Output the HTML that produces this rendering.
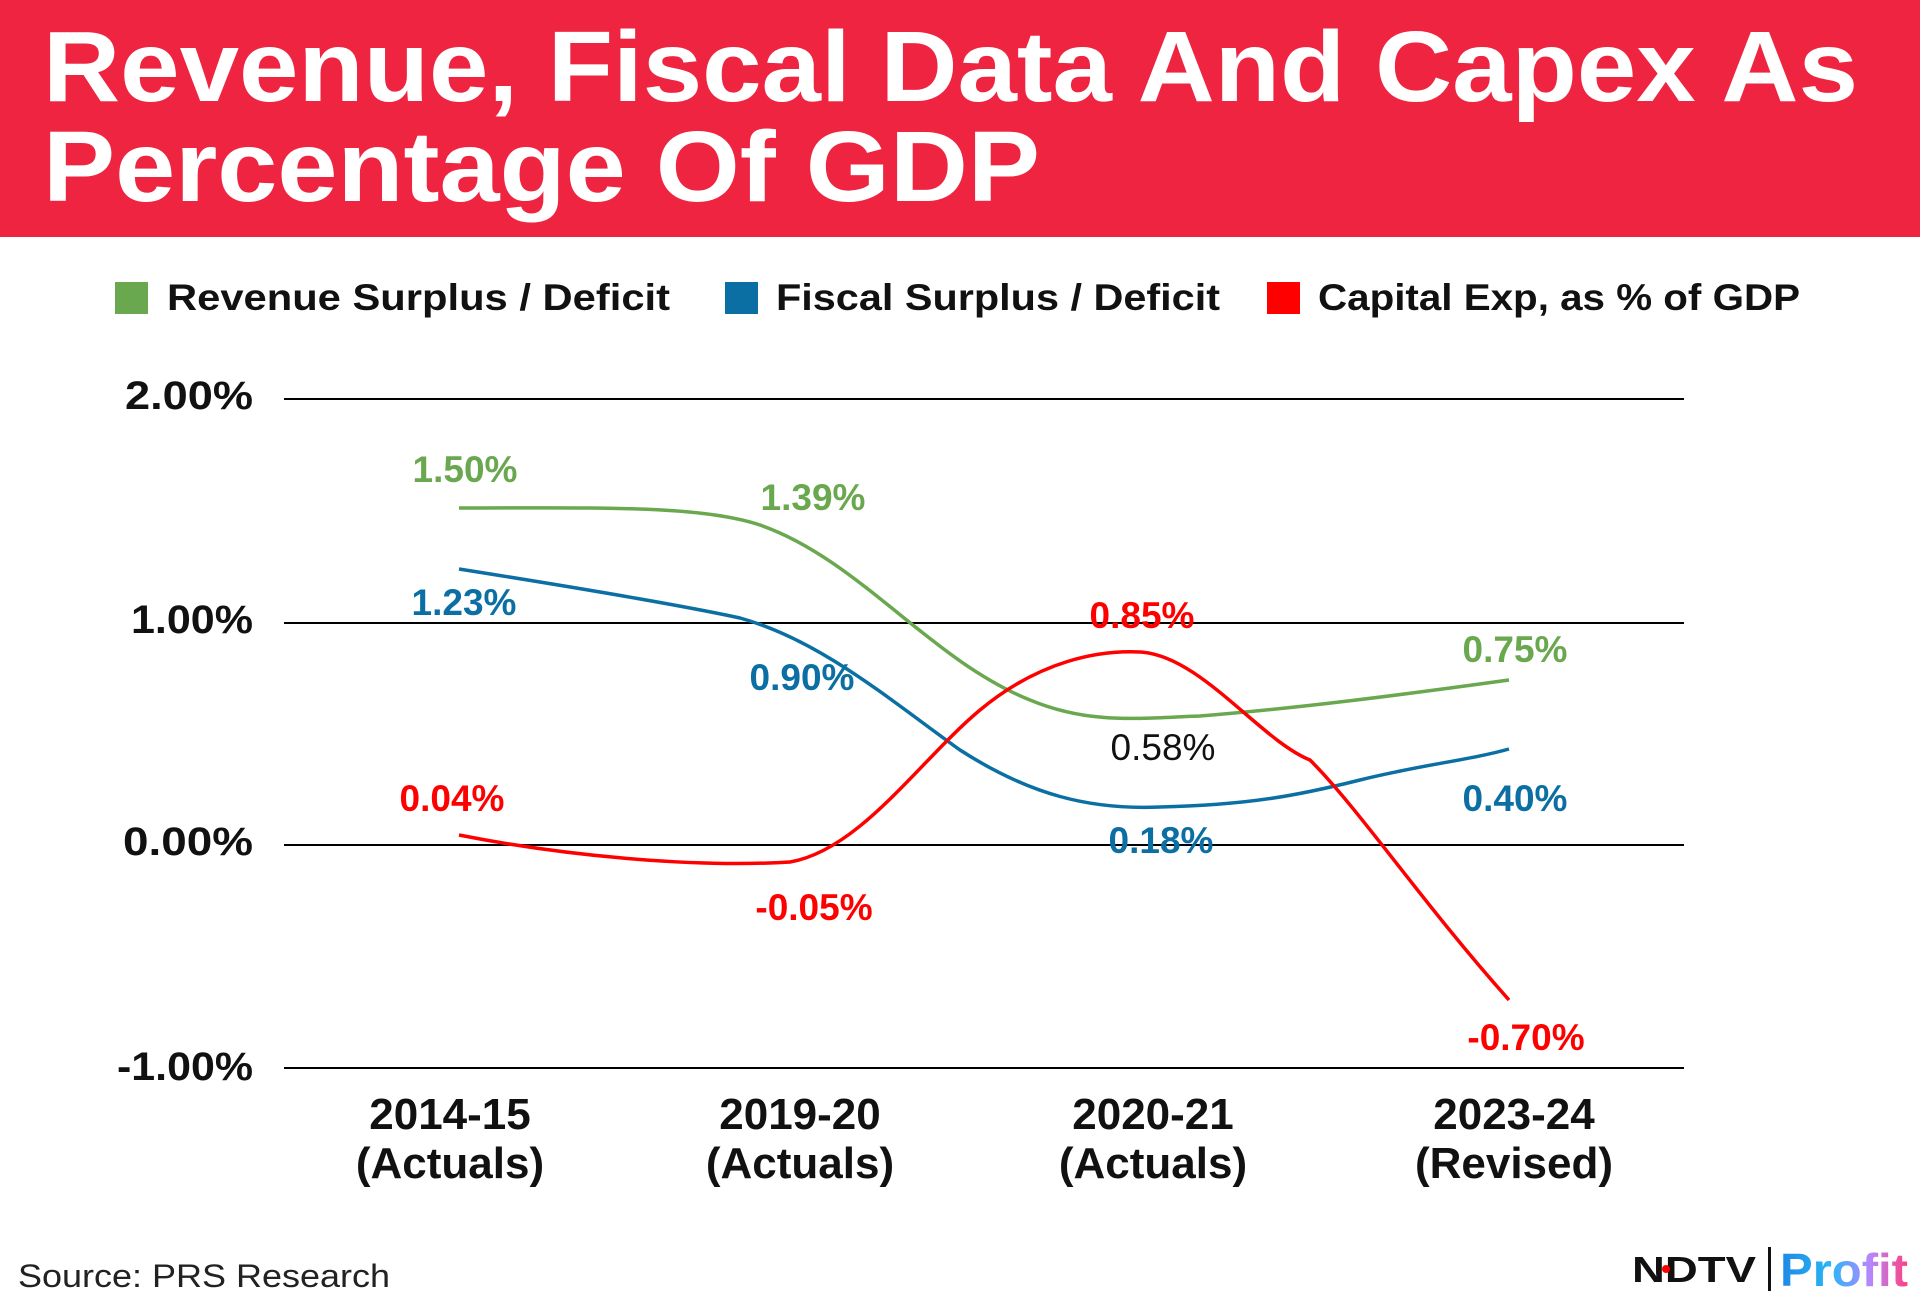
<!DOCTYPE html>
<html><head><meta charset="utf-8"><style>
html,body{margin:0;padding:0;background:#fff}
svg{display:block}
text{font-family:"Liberation Sans",sans-serif}
</style></head><body>
<svg width="1920" height="1304" viewBox="0 0 1920 1304" xmlns="http://www.w3.org/2000/svg">
<rect x="0" y="0" width="1920" height="237" fill="#ee2440"/>
<text x="43" y="101" font-size="100" font-weight="bold" fill="#fff" textLength="1815" lengthAdjust="spacingAndGlyphs">Revenue, Fiscal Data And Capex As</text>
<text x="43" y="201" font-size="100" font-weight="bold" fill="#fff" textLength="997" lengthAdjust="spacingAndGlyphs">Percentage Of GDP</text>

<rect x="115" y="282" width="33" height="32" fill="#6aa84f"/>
<text x="167" y="310" font-size="37" font-weight="bold" fill="#111" textLength="503" lengthAdjust="spacingAndGlyphs">Revenue Surplus / Deficit</text>
<rect x="725" y="282" width="33" height="32" fill="#0b6fa4"/>
<text x="776" y="310" font-size="37" font-weight="bold" fill="#111" textLength="444" lengthAdjust="spacingAndGlyphs">Fiscal Surplus / Deficit</text>
<rect x="1267" y="282" width="33" height="32" fill="#ff0000"/>
<text x="1318" y="310" font-size="37" font-weight="bold" fill="#111" textLength="482" lengthAdjust="spacingAndGlyphs">Capital Exp, as % of GDP</text>

<g stroke="#000" stroke-width="2">
<line x1="284" y1="399" x2="1684" y2="399"/>
<line x1="284" y1="623" x2="1684" y2="623"/>
<line x1="284" y1="845" x2="1684" y2="845"/>
<line x1="284" y1="1068" x2="1684" y2="1068"/>
</g>
<g font-size="40" font-weight="bold" fill="#111" text-anchor="end">
<text x="253" y="409" textLength="128" lengthAdjust="spacingAndGlyphs">2.00%</text>
<text x="253" y="633" textLength="122" lengthAdjust="spacingAndGlyphs">1.00%</text>
<text x="253" y="855" textLength="130" lengthAdjust="spacingAndGlyphs">0.00%</text>
<text x="253" y="1080" textLength="136" lengthAdjust="spacingAndGlyphs">-1.00%</text>
</g>

<g fill="none" stroke-width="3.5">
<path d="M459,508 C600,508 700,505 760,525 C860,560 930,660 1030,700 C1090,725 1140,718 1200,716 C1300,708 1400,695 1509,680" stroke="#6aa84f"/>
<path d="M459,569 C560,585 680,605 740,618 C820,640 890,700 960,750 C1030,795 1090,810 1160,807 C1250,805 1300,795 1360,780 C1420,765 1470,760 1509,749" stroke="#0b6fa4"/>
<path d="M459,835 C560,855 690,868 790,862 C860,850 920,760 980,710 C1040,660 1100,650 1140,652 C1200,655 1260,740 1310,760 C1360,810 1420,900 1509,1000" stroke="#ff0000"/>
</g>

<g font-size="37" font-weight="bold" text-anchor="middle">
<text x="465" y="482" fill="#6aa84f">1.50%</text>
<text x="813" y="510" fill="#6aa84f">1.39%</text>
<text x="1515" y="662" fill="#6aa84f">0.75%</text>
<text x="464" y="615" fill="#0b6fa4">1.23%</text>
<text x="802" y="690" fill="#0b6fa4">0.90%</text>
<text x="1161" y="853" fill="#0b6fa4">0.18%</text>
<text x="1515" y="811" fill="#0b6fa4">0.40%</text>
<text x="452" y="811" fill="#ff0000">0.04%</text>
<text x="814" y="920" fill="#ff0000">-0.05%</text>
<text x="1142" y="628" fill="#ff0000">0.85%</text>
<text x="1526" y="1050" fill="#ff0000">-0.70%</text>
<text x="1163" y="760" fill="#111" font-weight="normal">0.58%</text>
</g>

<g font-size="44" font-weight="bold" fill="#111" text-anchor="middle">
<text x="450" y="1129">2014-15</text>
<text x="450" y="1178">(Actuals)</text>
<text x="800" y="1129">2019-20</text>
<text x="800" y="1178">(Actuals)</text>
<text x="1153" y="1129">2020-21</text>
<text x="1153" y="1178">(Actuals)</text>
<text x="1514" y="1129">2023-24</text>
<text x="1514" y="1178">(Revised)</text>
</g>

<text x="18" y="1287" font-size="32" fill="#222" textLength="372" lengthAdjust="spacingAndGlyphs">Source: PRS Research</text>

<text x="1632" y="1282" font-size="36" font-weight="bold" fill="#111" textLength="124" lengthAdjust="spacingAndGlyphs">NDTV</text>
<circle cx="1666" cy="1269" r="4" fill="#ff0000"/>
<rect x="1768" y="1247" width="3" height="44" fill="#111"/>
<defs><linearGradient id="pg" x1="0" x2="1" y1="0" y2="0"><stop offset="0" stop-color="#1e88e5"/><stop offset="0.4" stop-color="#29b6f6"/><stop offset="0.7" stop-color="#b388ff"/><stop offset="1" stop-color="#ff4081"/></linearGradient></defs>
<text x="1780" y="1286" font-size="46" font-weight="bold" fill="url(#pg)" textLength="128" lengthAdjust="spacingAndGlyphs">Profit</text>
</svg>
</body></html>
